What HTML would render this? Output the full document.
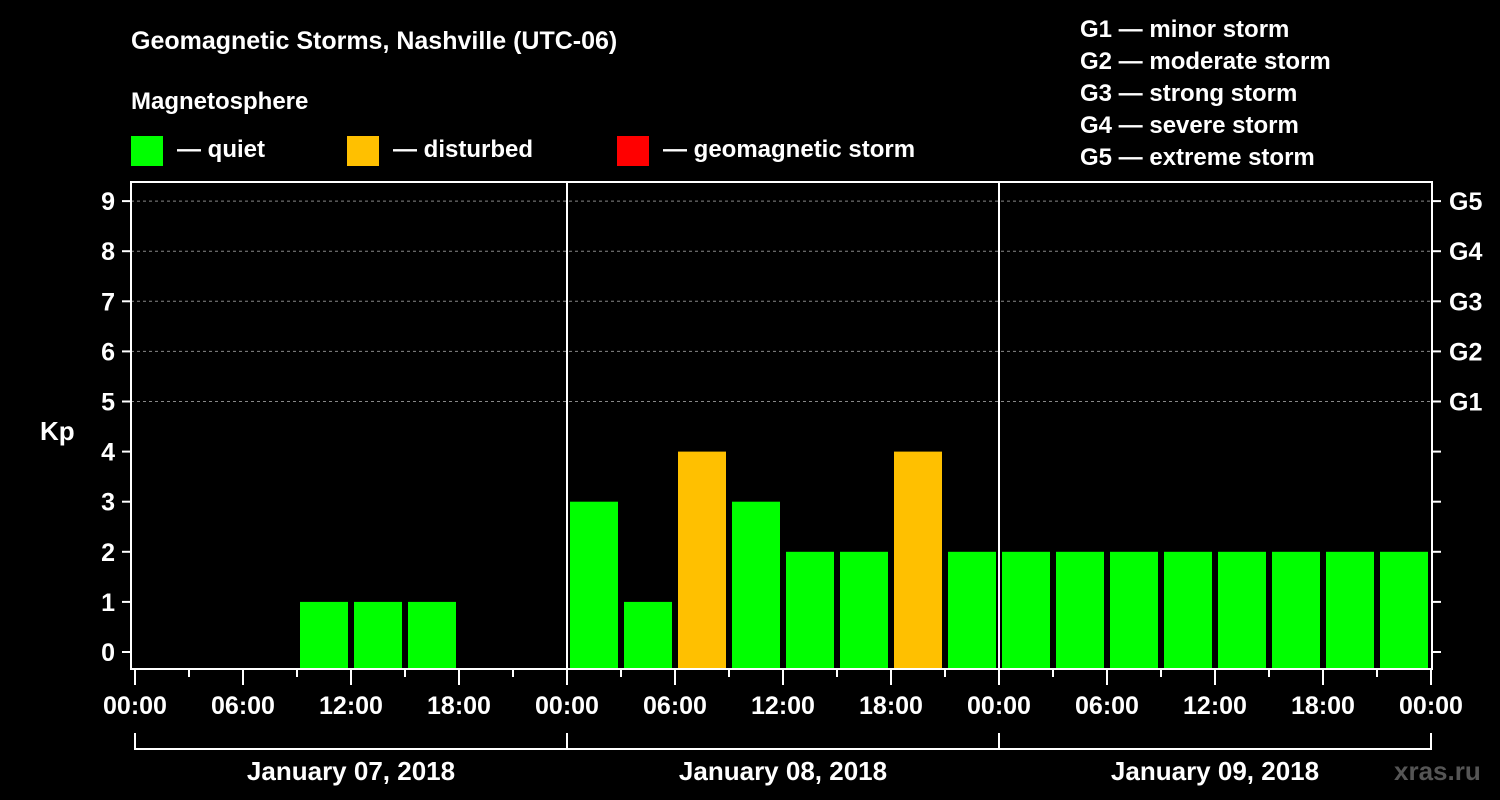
<!DOCTYPE html>
<html><head><meta charset="utf-8"><style>
body{margin:0;background:#000;}
svg{display:block;font-family:"Liberation Sans",sans-serif;font-weight:bold;}
</style></head><body>
<svg id="chart" width="1500" height="800" viewBox="0 0 1500 800">
<rect width="1500" height="800" fill="#000"/>
<text x="131" y="49" fill="#fff" font-size="25">Geomagnetic Storms, Nashville (UTC-06)</text>
<text x="131" y="109" fill="#fff" font-size="24">Magnetosphere</text>
<g><rect x="131" y="136" width="32" height="30" fill="#00ff00"/><text x="177" y="157" fill="#fff" font-size="24">— quiet</text></g>
<g><rect x="347" y="136" width="32" height="30" fill="#ffc000"/><text x="393" y="157" fill="#fff" font-size="24">— disturbed</text></g>
<g><rect x="617" y="136" width="32" height="30" fill="#ff0000"/><text x="663" y="157" fill="#fff" font-size="24">— geomagnetic storm</text></g>
<g fill="#fff" font-size="24">
<text x="1080" y="37">G1 — minor storm</text><text x="1080" y="69">G2 — moderate storm</text><text x="1080" y="101">G3 — strong storm</text><text x="1080" y="133">G4 — severe storm</text><text x="1080" y="165">G5 — extreme storm</text></g>
<text x="40" y="440" fill="#fff" font-size="26">Kp</text>
<g id="grid"></g><g id="bars"></g><g id="axes"></g>
<text x="1394" y="780" fill="#555" font-size="26">xras.ru</text>
</svg>
<script>
const days=["January 07, 2018","January 08, 2018","January 09, 2018"];
const kpValues=[0,0,0,1,1,1,0,0, 3,1,4,3,2,2,4,2, 2,2,2,2,2,2,2,2];
const yTicks=[0,1,2,3,4,5,6,7,8,9];
const gLabels=["G1","G2","G3","G4","G5"];
const timeLabels=["00:00","06:00","12:00","18:00"];
const NS="http://www.w3.org/2000/svg";
const L=135,R=1431,TOP=182,BOT=669;
const dayW=(R-L)/days.length, slotW=dayW/8;
const yS=v=>652-v*50.1;
const xS=i=>L+i*slotW;
function mk(t,a,p){const e=document.createElementNS(NS,t);for(const k in a)e.setAttribute(k,a[k]);p.appendChild(e);return e;}
const grid=document.getElementById('grid'),bars=document.getElementById('bars'),axes=document.getElementById('axes');
yTicks.forEach(v=>{
  if(v>=5){const g=mk('line',{x1:131,x2:1432,y1:yS(v),y2:yS(v),stroke:'#888','stroke-dasharray':'3,3','stroke-width':1},grid);
  
  }
  mk('line',{x1:122,x2:131,y1:yS(v),y2:yS(v),stroke:'#fff','stroke-width':2},axes);
  mk('line',{x1:1432,x2:1441,y1:yS(v),y2:yS(v),stroke:'#fff','stroke-width':2},axes);
  const t=mk('text',{x:115,y:yS(v)+9,fill:'#fff','font-size':25,'text-anchor':'end'},axes);t.textContent=v;
  
  
  if(v>=5){const g=mk('text',{x:1449,y:yS(v)+9,fill:'#fff','font-size':25},axes);g.textContent=gLabels[v-5];
  
  }
});
kpValues.forEach((v,i)=>{
  if(v<=0)return;
  const c=v>=5?'#ff0000':(v>=4?'#ffc000':'#00ff00');
  const b=mk('rect',{x:xS(i)+3,y:yS(v),width:slotW-6,height:BOT-yS(v),fill:c},bars);
  
  
});
mk('rect',{x:131,y:TOP,width:1301,height:BOT-TOP,fill:'none',stroke:'#fff','stroke-width':2},axes);
for(let d=1;d<days.length;d++)mk('line',{x1:L+d*dayW,x2:L+d*dayW,y1:TOP,y2:BOT,stroke:'#fff','stroke-width':2},axes);
for(let i=0;i<=days.length*8;i++){
  const x=xS(i);mk('line',{x1:x,x2:x,y1:BOT,y2:i%2?677:685,stroke:'#fff','stroke-width':2},axes);
  if(i%2===0){const t=mk('text',{x:x,y:714,fill:'#fff','font-size':25,'text-anchor':'middle'},axes);t.textContent=timeLabels[(i/2)%4];
  
  }
}
mk('line',{x1:L,x2:R,y1:749,y2:749,stroke:'#fff','stroke-width':2},axes);
for(let d=0;d<=days.length;d++)mk('line',{x1:L+d*dayW,x2:L+d*dayW,y1:733,y2:750,stroke:'#fff','stroke-width':2},axes);
days.forEach((s,d)=>{const t=mk('text',{x:L+(d+0.5)*dayW,y:780,fill:'#fff','font-size':26,'text-anchor':'middle'},axes);t.textContent=s;
  
  });
</script>
</body></html>
